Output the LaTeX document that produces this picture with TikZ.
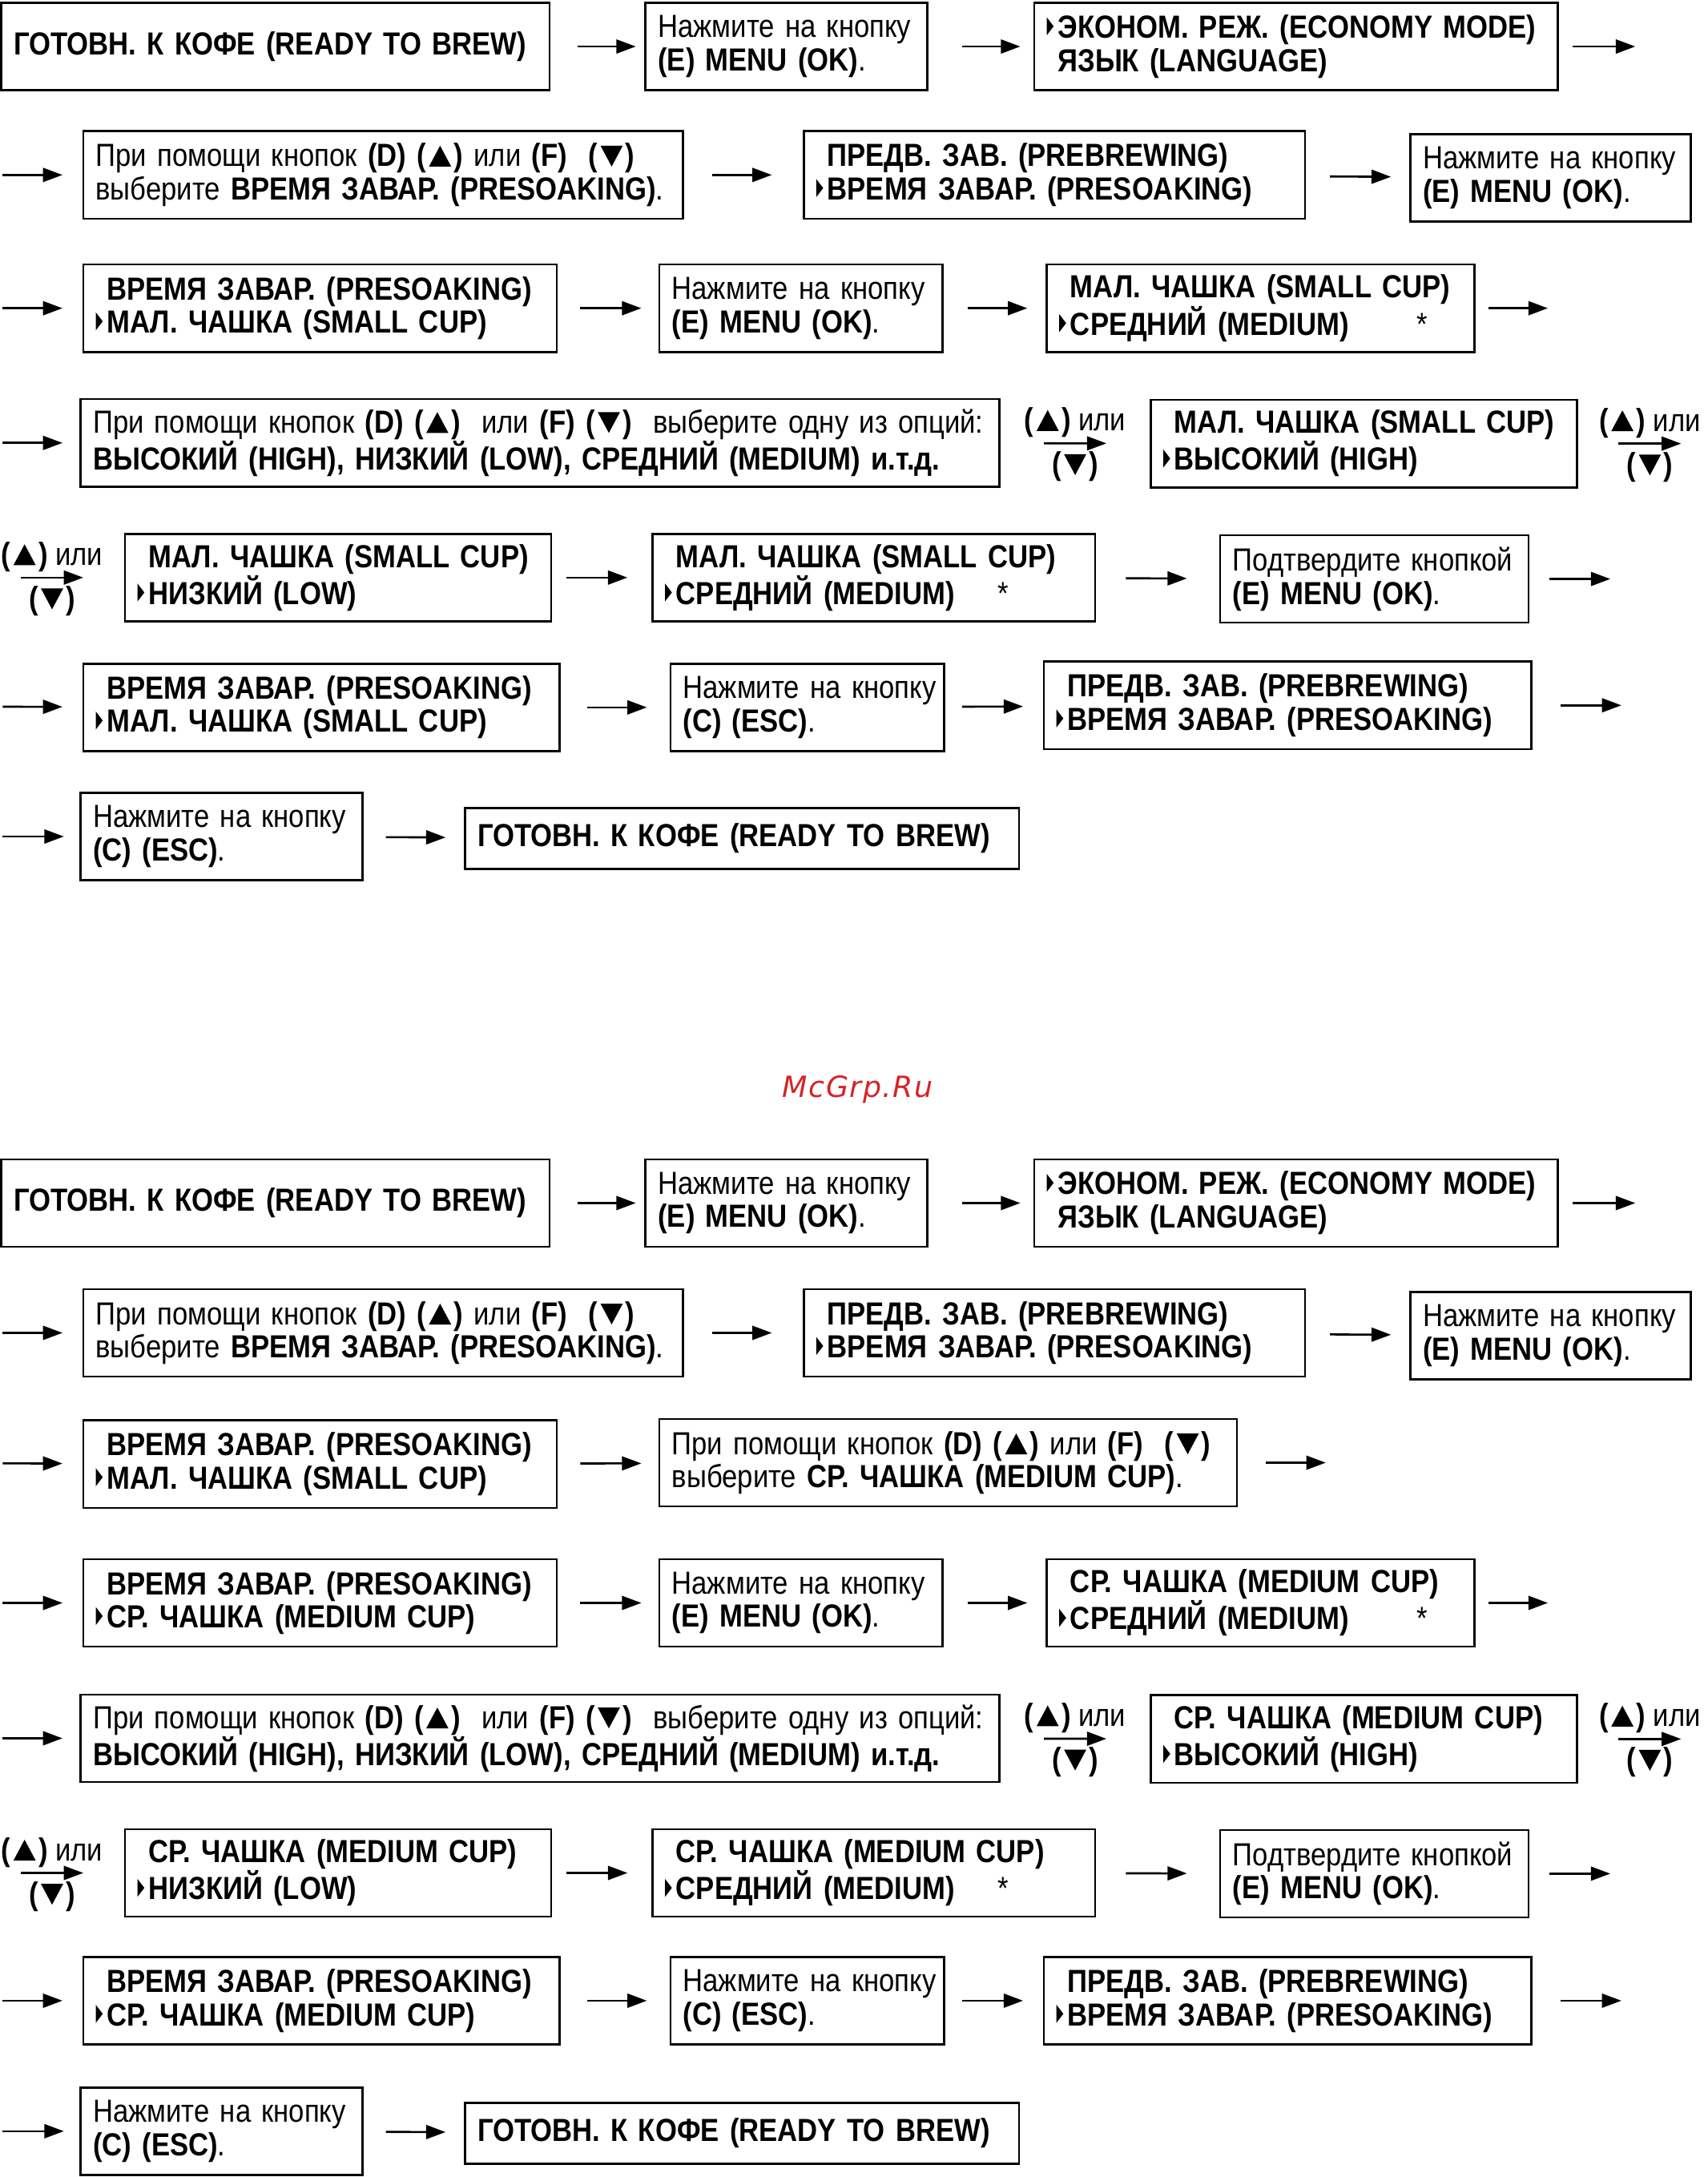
\documentclass[tikz,border=0pt]{standalone}
\usepackage{fontspec}
\setmainfont{Liberation Sans}[FakeStretch=0.87]
\newfontfamily\markfont{DejaVu Sans}[LetterSpace=4]
\usetikzlibrary{arrows.meta}
\definecolor{markred}{RGB}{214,36,40}
% menu cursor and key triangles
\newcommand{\ptr}{\tikz[baseline=0pt]\fill (0pt,2pt) -- (5pt,8.5pt) -- (0pt,15pt) -- cycle;\kern3pt}
\newcommand{\nptr}{\phantom{\ptr}}
\newcommand{\up}{\kern2pt\tikz[baseline=0pt]\fill (0pt,0pt) -- (16pt,0pt) -- (8pt,15pt) -- cycle;\kern2pt}
\newcommand{\dn}{\kern2pt\tikz[baseline=0pt]\fill (0pt,15pt) -- (16pt,15pt) -- (8pt,0pt) -- cycle;\kern2pt}

\begin{document}
\begin{tikzpicture}[
x=1pt, y=-1pt,
panel/.style={draw, line width=1.5pt, anchor=west, outer sep=0pt,
  inner xsep=1pt, inner ysep=0pt, minimum height=63pt, align=left,
  font=\fontsize{23}{24}\selectfont,
  execute at begin node={\leftskip=8pt\hyphenpenalty=10000\relax}},
flow/.style={-{Triangle[length=14pt,width=10pt]}, line width=1.5pt},
gap/.style 2 args={shorten <=#1pt, shorten >=#2pt},
tag/.style={font=\fontsize{23}{24}\selectfont, inner sep=1pt}
]
\useasboundingbox (0,0) rectangle (1230,1568);

% small cup
\node[panel, text width=393pt] (s-ready) at (1,33.5) {\textbf{ГОТОВН. К КОФЕ (READY TO BREW)}};
\node[panel, text width=201pt] (s-menu) at (465,33.5) {Нажмите на кнопку\\\textbf{(E) MENU (OK)}.};
\node[panel, text width=375pt] (s-economy) at (745,33.5) {\ptr\textbf{ЭКОНОМ. РЕЖ. (ECONOMY MODE)}\\\nptr\textbf{ЯЗЫК (LANGUAGE)}};
\coordinate (s-end1) at (1178,33.5);

\coordinate (s-start2) at (2,126);
\node[panel, text width=430pt] (s-select) at (60,126) {При помощи кнопок \textbf{(D) (\up)} или \textbf{(F) \ (\dn)}\\выберите \textbf{ВРЕМЯ ЗАВАР. (PRESOAKING)}.};
\node[panel, text width=359pt] (s-prebrew) at (579,126) {\nptr\textbf{ПРЕДВ. ЗАВ. (PREBREWING)}\\\ptr\textbf{ВРЕМЯ ЗАВАР. (PRESOAKING)}};
\node[panel, text width=200pt] (s-menu2) at (1016,128) {Нажмите на кнопку\\\textbf{(E) MENU (OK)}.};

\coordinate (s-start3) at (2,222);
\node[panel, text width=339pt] (s-presoak) at (60,222) {\nptr\textbf{ВРЕМЯ ЗАВАР. (PRESOAKING)}\\\ptr\textbf{МАЛ. ЧАШКА (SMALL CUP)}};
\node[panel, text width=202pt] (s-menu3) at (475,222) {Нажмите на кнопку\\\textbf{(E) MENU (OK)}.};
\node[panel, text width=306pt] (s-medium) at (754,222) {\nptr\textbf{МАЛ. ЧАШКА (SMALL CUP)}\\\ptr\textbf{СРЕДНИЙ (MEDIUM)}\hspace{49pt}*};
\coordinate (s-end3) at (1115,222);

\coordinate (s-start4) at (2,319);
\node[panel, text width=660pt] (s-options) at (58,319) {При помощи кнопок \textbf{(D) (\up)} \ или \textbf{(F) (\dn)} \ выберите одну из опций:\\\textbf{ВЫСОКИЙ (HIGH), НИЗКИЙ (LOW), СРЕДНИЙ (MEDIUM) и.т.д.}};
\node[panel, text width=305pt] (s-high) at (829,319.5) {\nptr\textbf{МАЛ. ЧАШКА (SMALL CUP)}\\\ptr\textbf{ВЫСОКИЙ (HIGH)}};
\coordinate (s-end4) at (1211,319.5);

\coordinate (s-start5) at (15,416);
\node[panel, text width=305pt] (s-low) at (90,416) {\nptr\textbf{МАЛ. ЧАШКА (SMALL CUP)}\\\ptr\textbf{НИЗКИЙ (LOW)}};
\node[panel, text width=317pt] (s-medium2) at (470,416) {\nptr\textbf{МАЛ. ЧАШКА (SMALL CUP)}\\\ptr\textbf{СРЕДНИЙ (MEDIUM)}\hspace{31pt}*};
\node[panel, text width=220pt] (s-confirm) at (879,417) {Подтвердите кнопкой\\\textbf{(E) MENU (OK)}.};
\coordinate (s-end5) at (1160,417);

\coordinate (s-start6) at (2,509);
\node[panel, text width=341pt] (s-presoak2) at (60,509.5) {\nptr\textbf{ВРЕМЯ ЗАВАР. (PRESOAKING)}\\\ptr\textbf{МАЛ. ЧАШКА (SMALL CUP)}};
\node[panel, text width=195pt] (s-esc) at (483,509.5) {Нажмите на кнопку\\\textbf{(C) (ESC)}.};
\node[panel, text width=349pt] (s-prebrew2) at (752,508) {\nptr\textbf{ПРЕДВ. ЗАВ. (PREBREWING)}\\\ptr\textbf{ВРЕМЯ ЗАВАР. (PRESOAKING)}};
\coordinate (s-end6) at (1168,508);

\coordinate (s-start7) at (2,602.5);
\node[panel, text width=201pt] (s-esc2) at (58,602.5) {Нажмите на кнопку\\\textbf{(C) (ESC)}.};
\node[panel, text width=397pt, minimum height=44pt] (s-ready2) at (335,604) {\textbf{ГОТОВН. К КОФЕ (READY TO BREW)}};

\draw[flow, gap={20}{7}] (s-ready) -- (s-menu);
\draw[flow, gap={25}{10}] (s-menu) -- (s-economy);
\draw[flow, gap={11}{0}] (s-economy) -- (s-end1);
\draw[flow, gap={0}{15}] (s-start2) -- (s-select);
\draw[flow, gap={21}{23}] (s-select) -- (s-prebrew);
\draw[flow, gap={18}{14}] (s-prebrew) -- (s-menu2);
\draw[flow, gap={0}{15}] (s-start3) -- (s-presoak);
\draw[flow, gap={17}{13}] (s-presoak) -- (s-menu3);
\draw[flow, gap={18}{14}] (s-menu3) -- (s-medium);
\draw[flow, gap={10}{0}] (s-medium) -- (s-end3);
\draw[flow, gap={0}{13}] (s-start4) -- (s-options);
\draw[flow, gap={32}{32}] (s-options) -- (s-high)
  node[tag, midway, above=3pt] {\textbf{(\up)} или}
  node[tag, midway, below=5pt] {\textbf{(\dn)}};
\draw[flow, gap={30}{0}] (s-high) -- (s-end4)
  node[tag, pos=.7, above=3pt] {\textbf{(\up)} или}
  node[tag, pos=.7, below=5pt] {\textbf{(\dn)}};
\draw[flow, gap={0}{30}] (s-start5) -- (s-low)
  node[tag, pos=.3, above=3pt] {\textbf{(\up)} или}
  node[tag, pos=.3, below=5pt] {\textbf{(\dn)}};
\draw[flow, gap={11}{18}] (s-low) -- (s-medium2);
\draw[flow, gap={22}{24}] (s-medium2) -- (s-confirm);
\draw[flow, gap={15}{0}] (s-confirm) -- (s-end5);
\draw[flow, gap={0}{15}] (s-start6) -- (s-presoak2);
\draw[flow, gap={20}{17}] (s-presoak2) -- (s-esc);
\draw[flow, gap={13}{15}] (s-esc) -- (s-prebrew2);
\draw[flow, gap={21}{0}] (s-prebrew2) -- (s-end6);
\draw[flow, gap={0}{12}] (s-start7) -- (s-esc2);
\draw[flow, gap={17}{14}] (s-esc2) -- (s-ready2);

\node[font=\markfont\fontsize{21}{21}\selectfont\itshape, text=markred] (mark) at (618,785) {McGrp.Ru};

% medium cup
\node[panel, text width=393pt] (m-ready) at (1,866.5) {\textbf{ГОТОВН. К КОФЕ (READY TO BREW)}};
\node[panel, text width=201pt] (m-menu) at (465,866.5) {Нажмите на кнопку\\\textbf{(E) MENU (OK)}.};
\node[panel, text width=375pt] (m-economy) at (745,866.5) {\ptr\textbf{ЭКОНОМ. РЕЖ. (ECONOMY MODE)}\\\nptr\textbf{ЯЗЫК (LANGUAGE)}};
\coordinate (m-end1) at (1178,866.5);

\coordinate (m-start2) at (2,960);
\node[panel, text width=430pt] (m-select) at (60,960) {При помощи кнопок \textbf{(D) (\up)} или \textbf{(F) \ (\dn)}\\выберите \textbf{ВРЕМЯ ЗАВАР. (PRESOAKING)}.};
\node[panel, text width=359pt] (m-prebrew) at (579,960) {\nptr\textbf{ПРЕДВ. ЗАВ. (PREBREWING)}\\\ptr\textbf{ВРЕМЯ ЗАВАР. (PRESOAKING)}};
\node[panel, text width=200pt] (m-menu2) at (1016,962) {Нажмите на кнопку\\\textbf{(E) MENU (OK)}.};

\coordinate (m-start3) at (2,1054);
\node[panel, text width=339pt] (m-presoak) at (60,1054.5) {\nptr\textbf{ВРЕМЯ ЗАВАР. (PRESOAKING)}\\\ptr\textbf{МАЛ. ЧАШКА (SMALL CUP)}};
\node[panel, text width=414pt] (m-cup) at (475,1053.5) {При помощи кнопок \textbf{(D) (\up)} или \textbf{(F) \ (\dn)}\\выберите \textbf{СР. ЧАШКА (MEDIUM CUP)}.};
\coordinate (m-end3) at (955,1053.5);

\coordinate (m-start4) at (2,1154.5);
\node[panel, text width=339pt] (m-presoak2) at (60,1154.5) {\nptr\textbf{ВРЕМЯ ЗАВАР. (PRESOAKING)}\\\ptr\textbf{СР. ЧАШКА (MEDIUM CUP)}};
\node[panel, text width=202pt] (m-menu3) at (475,1154.5) {Нажмите на кнопку\\\textbf{(E) MENU (OK)}.};
\node[panel, text width=306pt] (m-medium) at (754,1154.5) {\nptr\textbf{СР. ЧАШКА (MEDIUM CUP)}\\\ptr\textbf{СРЕДНИЙ (MEDIUM)}\hspace{49pt}*};
\coordinate (m-end4) at (1115,1154.5);

\coordinate (m-start5) at (2,1252);
\node[panel, text width=660pt] (m-options) at (58,1252) {При помощи кнопок \textbf{(D) (\up)} \ или \textbf{(F) (\dn)} \ выберите одну из опций:\\\textbf{ВЫСОКИЙ (HIGH), НИЗКИЙ (LOW), СРЕДНИЙ (MEDIUM) и.т.д.}};
\node[panel, text width=305pt] (m-high) at (829,1252.5) {\nptr\textbf{СР. ЧАШКА (MEDIUM CUP)}\\\ptr\textbf{ВЫСОКИЙ (HIGH)}};
\coordinate (m-end5) at (1211,1252.5);

\coordinate (m-start6) at (15,1349);
\node[panel, text width=305pt] (m-low) at (90,1349) {\nptr\textbf{СР. ЧАШКА (MEDIUM CUP)}\\\ptr\textbf{НИЗКИЙ (LOW)}};
\node[panel, text width=317pt] (m-medium2) at (470,1349) {\nptr\textbf{СР. ЧАШКА (MEDIUM CUP)}\\\ptr\textbf{СРЕДНИЙ (MEDIUM)}\hspace{31pt}*};
\node[panel, text width=220pt] (m-confirm) at (879,1349.5) {Подтвердите кнопкой\\\textbf{(E) MENU (OK)}.};
\coordinate (m-end6) at (1160,1349.5);

\coordinate (m-start7) at (2,1441);
\node[panel, text width=341pt] (m-presoak3) at (60,1441) {\nptr\textbf{ВРЕМЯ ЗАВАР. (PRESOAKING)}\\\ptr\textbf{СР. ЧАШКА (MEDIUM CUP)}};
\node[panel, text width=195pt] (m-esc) at (483,1441) {Нажмите на кнопку\\\textbf{(C) (ESC)}.};
\node[panel, text width=349pt] (m-prebrew2) at (752,1441) {\nptr\textbf{ПРЕДВ. ЗАВ. (PREBREWING)}\\\ptr\textbf{ВРЕМЯ ЗАВАР. (PRESOAKING)}};
\coordinate (m-end7) at (1168,1441);

\coordinate (m-start8) at (2,1535);
\node[panel, text width=201pt] (m-esc2) at (58,1535) {Нажмите на кнопку\\\textbf{(C) (ESC)}.};
\node[panel, text width=397pt, minimum height=44pt] (m-ready2) at (335,1536.5) {\textbf{ГОТОВН. К КОФЕ (READY TO BREW)}};

\draw[flow, gap={20}{7}] (m-ready) -- (m-menu);
\draw[flow, gap={25}{10}] (m-menu) -- (m-economy);
\draw[flow, gap={11}{0}] (m-economy) -- (m-end1);
\draw[flow, gap={0}{15}] (m-start2) -- (m-select);
\draw[flow, gap={21}{23}] (m-select) -- (m-prebrew);
\draw[flow, gap={18}{14}] (m-prebrew) -- (m-menu2);
\draw[flow, gap={0}{15}] (m-start3) -- (m-presoak);
\draw[flow, gap={17}{13}] (m-presoak) -- (m-cup);
\draw[flow, gap={21}{0}] (m-cup) -- (m-end3);
\draw[flow, gap={0}{15}] (m-start4) -- (m-presoak2);
\draw[flow, gap={17}{13}] (m-presoak2) -- (m-menu3);
\draw[flow, gap={18}{14}] (m-menu3) -- (m-medium);
\draw[flow, gap={10}{0}] (m-medium) -- (m-end4);
\draw[flow, gap={0}{13}] (m-start5) -- (m-options);
\draw[flow, gap={32}{32}] (m-options) -- (m-high)
  node[tag, midway, above=3pt] {\textbf{(\up)} или}
  node[tag, midway, below=5pt] {\textbf{(\dn)}};
\draw[flow, gap={30}{0}] (m-high) -- (m-end5)
  node[tag, pos=.7, above=3pt] {\textbf{(\up)} или}
  node[tag, pos=.7, below=5pt] {\textbf{(\dn)}};
\draw[flow, gap={0}{30}] (m-start6) -- (m-low)
  node[tag, pos=.3, above=3pt] {\textbf{(\up)} или}
  node[tag, pos=.3, below=5pt] {\textbf{(\dn)}};
\draw[flow, gap={11}{18}] (m-low) -- (m-medium2);
\draw[flow, gap={22}{24}] (m-medium2) -- (m-confirm);
\draw[flow, gap={15}{0}] (m-confirm) -- (m-end6);
\draw[flow, gap={0}{15}] (m-start7) -- (m-presoak3);
\draw[flow, gap={20}{17}] (m-presoak3) -- (m-esc);
\draw[flow, gap={13}{15}] (m-esc) -- (m-prebrew2);
\draw[flow, gap={21}{0}] (m-prebrew2) -- (m-end7);
\draw[flow, gap={0}{12}] (m-start8) -- (m-esc2);
\draw[flow, gap={17}{14}] (m-esc2) -- (m-ready2);

\end{tikzpicture}
\end{document}
